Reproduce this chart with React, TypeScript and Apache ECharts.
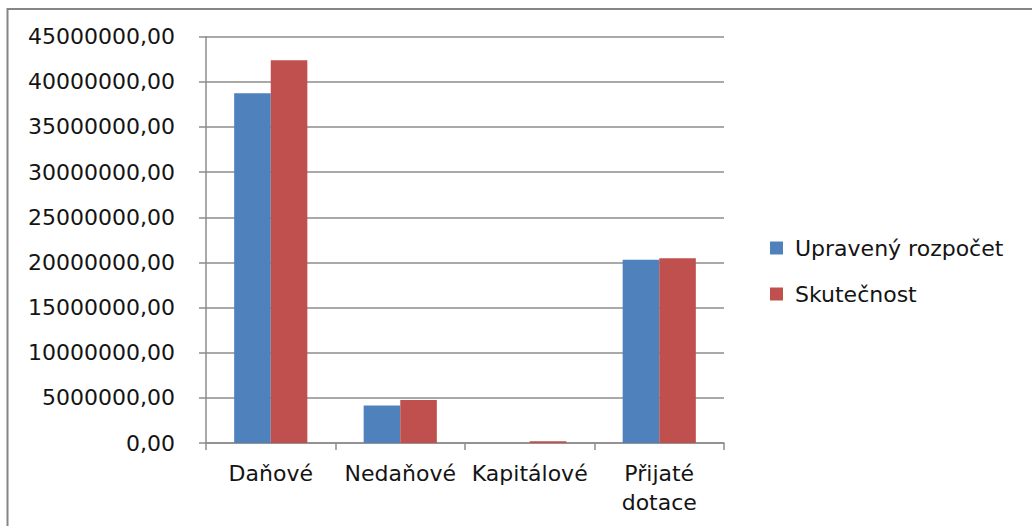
import React, { useEffect, useRef } from "react";
import * as echarts from "echarts";

const categories = ["Daňové", "Nedaňové", "Kapitálové", "Přijaté dotace"];
const seriesNames = ["Upravený rozpočet", "Skutečnost"];
const upraveny = [38750000, 4150000, 0, 20300000];
const skutecnost = [42400000, 4750000, 180000, 20450000];
const yTicks = { min: 0, max: 45000000, interval: 5000000 };

const FONT = "DejaVu Sans";
const TEXT = "#141414";
const GRID_COLOR = "#8c8c8c";

export default function App() {
  const ref = useRef<HTMLDivElement>(null);
  useEffect(() => {
    if (!ref.current) return;
    const chart = echarts.init(ref.current, undefined, { renderer: "svg" });
    chart.setOption({
      animation: false,
      backgroundColor: "#ffffff",
      textStyle: { fontFamily: FONT },
      graphic: [
        {
          type: "rect",
          shape: { x: 7.5, y: 9, width: 1100, height: 600 },
          style: { fill: "none", stroke: "#868686", lineWidth: 2 },
          silent: true,
        },
      ],
      grid: { left: 206, top: 36.7, right: 308, bottom: 83, containLabel: false },
      legend: {
        orient: "vertical",
        left: 770,
        top: 235,
        padding: 0,
        itemWidth: 13,
        itemHeight: 13,
        itemGap: 20,
        icon: "rect",
        data: seriesNames,
        textStyle: {
          fontFamily: FONT,
          fontSize: 22,
          lineHeight: 26,
          color: TEXT,
          padding: [0, 0, 0, 7],
        },
      },
      xAxis: {
        type: "category",
        data: categories,
        axisLine: { show: true, lineStyle: { color: GRID_COLOR, width: 1.5 } },
        axisTick: { show: true, length: 7, alignWithLabel: false, lineStyle: { color: GRID_COLOR, width: 1.5 } },
        axisLabel: {
          interval: 0,
          margin: 16,
          fontFamily: FONT,
          fontSize: 22,
          lineHeight: 29,
          color: TEXT,
          formatter: (v: string) => v.replace(" ", "\n"),
        },
        splitLine: { show: false },
      },
      yAxis: {
        type: "value",
        min: yTicks.min,
        max: yTicks.max,
        interval: yTicks.interval,
        axisLine: { show: true, lineStyle: { color: GRID_COLOR, width: 1.5 } },
        axisTick: { show: true, length: 7, lineStyle: { color: GRID_COLOR, width: 1.5 } },
        axisLabel: {
          margin: 31,
          fontFamily: FONT,
          fontSize: 22,
          color: TEXT,
          formatter: (v: number) => v.toFixed(2).replace(".", ","),
        },
        splitLine: { show: true, lineStyle: { color: GRID_COLOR, width: 1.5 } },
      },
      series: [
        {
          name: seriesNames[0],
          type: "bar",
          data: upraveny,
          barGap: "0%",
          barCategoryGap: "43.5%",
          itemStyle: { color: "#4F81BD" },
        },
        {
          name: seriesNames[1],
          type: "bar",
          data: skutecnost,
          barGap: "0%",
          barCategoryGap: "43.5%",
          itemStyle: { color: "#C0504D" },
        },
      ],
    });
    return () => chart.dispose();
  }, []);
  return (
    <div
      ref={ref}
      style={{ position: "fixed", left: 0, top: 0, width: 1032, height: 526, background: "#fff" }}
    />
  );
}
